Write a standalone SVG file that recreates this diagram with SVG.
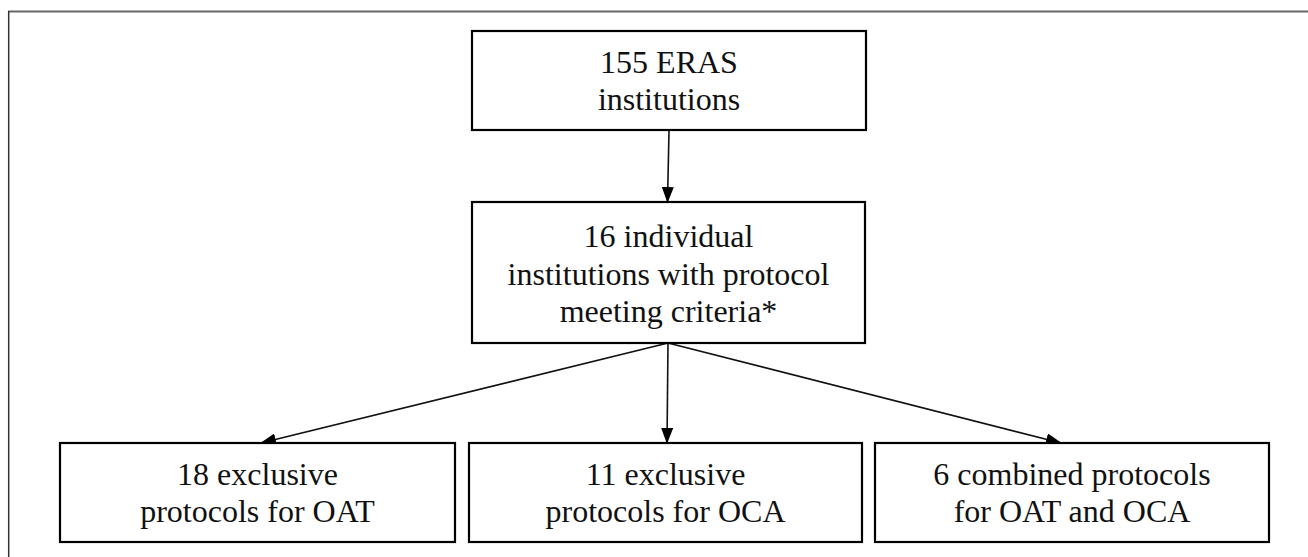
<svg xmlns="http://www.w3.org/2000/svg" width="1308" height="557" viewBox="0 0 1308 557">
<style>
.box{fill:#fff;stroke:#000;stroke-width:2.2}
.t{font-family:'Liberation Serif','Times New Roman',serif;font-size:32px;fill:#111;text-anchor:middle}
.c{stroke:#111;stroke-width:1.6;fill:none}
</style>
<defs>
<marker id="ah" markerWidth="16" markerHeight="12" refX="15" refY="6" orient="auto" markerUnits="userSpaceOnUse">
<path d="M0,0 L16,6 L0,12 Z" fill="#000"/>
</marker>
</defs>
<rect width="1308" height="557" fill="#fff"/>
<g id="frame">
<line x1="8" y1="11.5" x2="1308" y2="11.5" stroke="#666" stroke-width="2"/>
<line x1="8.7" y1="11" x2="8.7" y2="557" stroke="#333" stroke-width="1.5"/>
</g>
<g id="connectors">
<line class="c" x1="669" y1="131" x2="667.5" y2="202" marker-end="url(#ah)"/>
<line class="c" x1="668" y1="343" x2="261" y2="443" marker-end="url(#ah)"/>
<line class="c" x1="668" y1="343" x2="667" y2="443" marker-end="url(#ah)"/>
<line class="c" x1="668" y1="343" x2="1061" y2="443" marker-end="url(#ah)"/>
</g>
<g id="n1">
<rect class="box" x="472" y="31" width="394" height="99"/>
<text class="t" x="669" y="73">155 ERAS</text>
<text class="t" x="669" y="110">institutions</text>
</g>
<g id="n2">
<rect class="box" x="472" y="202" width="393" height="141"/>
<text class="t" x="668.5" y="247">16 individual</text>
<text class="t" x="668.5" y="285">institutions with protocol</text>
<text class="t" x="668.5" y="322">meeting criteria*</text>
</g>
<g id="n3">
<rect class="box" x="60" y="443" width="395" height="99"/>
<text class="t" x="257.5" y="485">18 exclusive</text>
<text class="t" x="257.5" y="522">protocols for OAT</text>
</g>
<g id="n4">
<rect class="box" x="469" y="443" width="393" height="99"/>
<text class="t" x="665.5" y="485">11 exclusive</text>
<text class="t" x="665.5" y="522">protocols for OCA</text>
</g>
<g id="n5">
<rect class="box" x="875" y="443" width="394" height="99"/>
<text class="t" x="1072" y="485">6 combined protocols</text>
<text class="t" x="1072" y="522">for OAT and OCA</text>
</g>
</svg>
